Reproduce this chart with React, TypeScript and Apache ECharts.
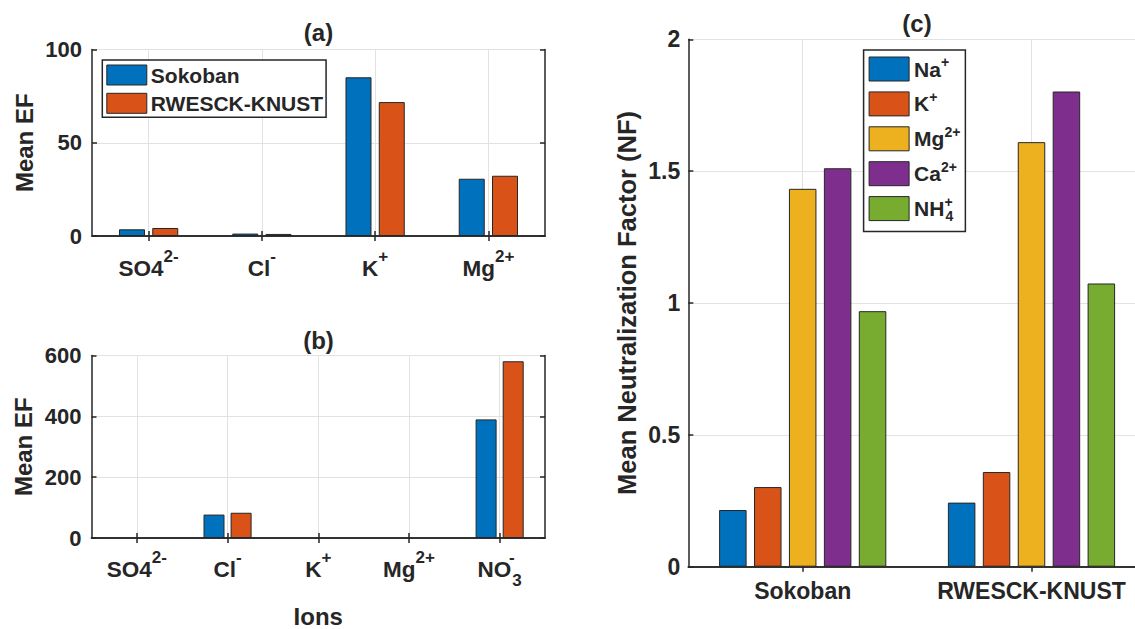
import React, { useEffect, useRef } from "react";
import * as echarts from "echarts";

const FONT = "'Liberation Sans', Arial, Helvetica, sans-serif";
const TXT = "#262626";
const GRIDC = "#e2e2e2";

// Panel (a)
const ionsA = ["SO4^2-", "Cl^-", "K^+", "Mg^2+"];
const sokobanA = [3.6, 1.3, 85.1, 30.7];
const rwesckA = [4.3, 1.1, 71.8, 32.3];
// Panel (b)
const ionsB = ["SO4^2-", "Cl^-", "K^+", "Mg^2+", "NO_3^-"];
const sokobanB = [null, 77, null, null, 390];
const rwesckB = [null, 83, null, null, 581];
// Panel (c)
const sites = ["Sokoban", "RWESCK-KNUST"];
const cationNames = ["Na^+", "K^+", "Mg^2+", "Ca^2+", "NH_4^+"];
const naNF = [0.215, 0.243];
const kNF = [0.302, 0.359];
const mgNF = [1.433, 1.61];
const caNF = [1.511, 1.802];
const nh4NF = [0.969, 1.074];
const cationValues = [naNF, kNF, mgNF, caNF, nh4NF];
const siteNames = ["Sokoban", "RWESCK-KNUST"];
const colors = ["#0072BD", "#D95319", "#EDB120", "#7E2F8E", "#77AC30"];

function toRich(s: string): string {
  const m = s.match(/^([^_^]+)(?:_([^^]+))?(?:\^(.+))?$/);
  if (!m) return s;
  const base = m[1], sub = m[2], sup = m[3];
  let out = `{m|${base}}`;
  if (sub && sup) out += `{spz|${sup}}{sb|${sub}}`;
  else if (sup) out += `{sp|${sup}}`;
  else if (sub) out += `{sb|${sub}}`;
  return out;
}

function richSet(fs: number, sfs: number, L: number) {
  const base = { fontFamily: FONT, fontWeight: "bold" as const, color: TXT };
  return {
    m: { ...base, fontSize: fs, lineHeight: L },
    sp: { ...base, fontSize: sfs, lineHeight: sfs, verticalAlign: "top" },
    spz: { ...base, fontSize: sfs, lineHeight: sfs, verticalAlign: "top", width: 1 },
    sb: { ...base, fontSize: sfs, lineHeight: sfs, verticalAlign: "bottom" },
  };
}

const axisLine = { show: true, lineStyle: { color: TXT, width: 1.5 } };
const tickIn = { show: true, inside: true, length: 5, alignWithLabel: true, lineStyle: { color: TXT, width: 1.5 } };

const grids = [
  { left: 92, top: 49.5, width: 453, height: 186.5 },
  { left: 91.5, top: 355.5, width: 453.5, height: 187.2 },
  { left: 688.3, top: 39.3, width: 457.6, height: 527.4 },
];

function xPair(gi: number, data: string[], label: any, extra: any = {}) {
  return [
    {
      type: "category", gridIndex: gi, data, position: "bottom", boundaryGap: true,
      axisLine, axisTick: { ...tickIn, interval: 0 },
      axisLabel: { interval: 0, hideOverlap: false, ...label },
      splitLine: { show: false }, ...extra,
    },
    {
      type: "category", gridIndex: gi, data, position: "top", boundaryGap: true,
      axisLine, axisTick: { ...tickIn, interval: 0 }, axisLabel: { show: false, interval: 0 },
      splitLine: { show: true, interval: 0, alignWithLabel: true, lineStyle: { color: GRIDC, width: 1 } },
    },
  ];
}

function yPair(gi: number, min: number, max: number, interval: number, fs: number, margin: number, name: string, nfs: number, nameGap: number) {
  return [
    {
      type: "value", gridIndex: gi, min, max, interval, position: "left",
      axisLine, axisTick: { ...tickIn, alignWithLabel: false },
      axisLabel: { fontSize: fs, fontWeight: "bold", fontFamily: FONT, color: TXT, margin },
      splitLine: { show: true, lineStyle: { color: GRIDC, width: 1 } },
      name, nameLocation: "middle", nameGap,
      nameTextStyle: { fontSize: nfs, fontWeight: "bold", fontFamily: FONT, color: TXT },
    },
    {
      type: "value", gridIndex: gi, min, max, interval, position: "right",
      axisLine, axisTick: { ...tickIn, alignWithLabel: false },
      axisLabel: { show: false }, splitLine: { show: false },
    },
  ];
}

const barStyle = (c: string) => ({ color: c, borderColor: TXT, borderWidth: 1 });

function buildOption() {
  const xAxis = [
    ...xPair(0, ionsA, { formatter: (v: string) => toRich(v), margin: 12, rich: richSet(22.5, 17, 40) }),
    ...xPair(1, ionsB, { formatter: (v: string) => toRich(v), margin: 11.3, rich: richSet(22.5, 17, 40) }, {
      name: "Ions", nameLocation: "middle", nameGap: 66,
      nameTextStyle: { fontSize: 24, fontWeight: "bold", fontFamily: FONT, color: TXT },
    }),
    ...xPair(2, sites, { fontSize: 23, fontWeight: "bold", fontFamily: FONT, color: TXT, lineHeight: 23, margin: 12.8 }),
  ];
  const yAxis = [
    ...yPair(0, 0, 100, 50, 22, 10, "Mean EF", 24, 56),
    ...yPair(1, 0, 600, 200, 22, 10, "Mean EF", 24, 56),
    ...yPair(2, 0, 2, 0.5, 23, 8, "Mean Neutralization Factor (NF)", 25.5, 48),
  ];
  const series: any[] = [];
  const aData = [sokobanA, rwesckA];
  const bData = [sokobanB, rwesckB];
  siteNames.forEach((n, i) => {
    series.push({ type: "bar", name: n, xAxisIndex: 0, yAxisIndex: 0, data: aData[i], barWidth: 26, barGap: "28%", itemStyle: barStyle(colors[i]) });
  });
  siteNames.forEach((n, i) => {
    series.push({ type: "bar", name: n, xAxisIndex: 2, yAxisIndex: 2, data: bData[i], barWidth: 21, barGap: "29%", itemStyle: barStyle(colors[i]) });
  });
  cationNames.forEach((n, i) => {
    series.push({ type: "bar", name: n, xAxisIndex: 4, yAxisIndex: 4, data: cationValues[i], barWidth: 27.5, barGap: "27%", itemStyle: barStyle(colors[i]) });
  });

  const titleText = (text: string, x: number, y: number) => ({
    type: "text", x, y, silent: true,
    style: { text, fontSize: 24, fontWeight: "bold", fontFamily: FONT, fill: TXT, align: "center", verticalAlign: "middle" },
  });

  return {
    animation: false,
    backgroundColor: "#ffffff",
    grid: grids,
    xAxis,
    yAxis,
    series,
    legend: [
      {
        data: siteNames, orient: "vertical", left: 102.3, top: 60,
        padding: [4, 3, 3, 4], itemGap: 6.3, itemWidth: 40, itemHeight: 20, icon: "rect",
        borderColor: TXT, borderWidth: 1.5, backgroundColor: "#fff",
        itemStyle: { borderColor: TXT, borderWidth: 1 },
        textStyle: { fontSize: 21, fontWeight: "bold", fontFamily: FONT, color: TXT, lineHeight: 22, padding: [0, 0, 0, -1] },
        selectedMode: false,
      },
      {
        data: cationNames, orient: "vertical", left: 863.6, top: 50,
        padding: [5, 5, 9, 5], itemGap: 8.4, itemWidth: 40, itemHeight: 24, icon: "rect",
        borderColor: TXT, borderWidth: 1.5, backgroundColor: "#fff",
        itemStyle: { borderColor: TXT, borderWidth: 1 },
        formatter: (n: string) => toRich(n),
        textStyle: { fontSize: 21, fontWeight: "bold", fontFamily: FONT, color: TXT, rich: richSet(21, 14, 28) },
        selectedMode: false,
      },
    ],
    graphic: [
      titleText("(a)", 318.5, 32),
      titleText("(b)", 318.5, 340),
      titleText("(c)", 917, 23),
    ],
  };
}

export default function App() {
  const ref = useRef<HTMLDivElement>(null);
  useEffect(() => {
    const chart = echarts.init(ref.current!, null, { renderer: "svg" });
    chart.setOption(buildOption() as any);
    return () => chart.dispose();
  }, []);
  return (
    <div
      ref={ref}
      style={{ position: "fixed", left: 0, top: 0, width: 1160, height: 629, background: "#fff" }}
    />
  );
}
